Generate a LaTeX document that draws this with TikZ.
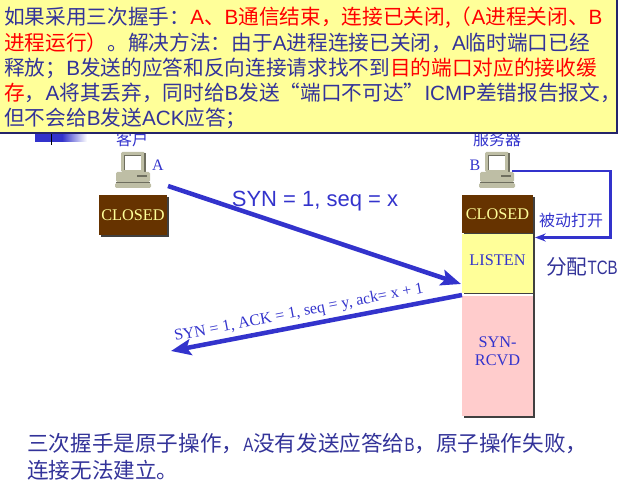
\documentclass[tikz,border=0pt]{standalone}
\usepackage{fontspec}
\setmainfont{Noto Sans CJK SC}
\newfontfamily\arialfont{Liberation Sans}
\newfontfamily\timesfont{Liberation Serif}
\newfontfamily\narrowfont[FakeStretch=0.78]{Liberation Sans}
\usepackage{tikz}
\usetikzlibrary{arrows.meta,positioning}
\usepackage{xcolor}
\definecolor{tcpblue}{RGB}{51,51,204}
\definecolor{notetext}{RGB}{51,51,153}
\definecolor{noteyellow}{RGB}{255,255,153}
\definecolor{closedbrown}{RGB}{102,51,0}
\definecolor{rcvdpink}{RGB}{255,204,204}
\definecolor{pcgray}{RGB}{190,190,165}
\definecolor{pcdark}{RGB}{110,110,95}
\newcommand{\la}[1]{{\arialfont #1}}
\newcommand{\na}[1]{{\narrowfont\fontsize{14.5}{20}\selectfont #1}}
\newcommand{\hot}[1]{\textcolor{red}{#1}}
\tikzstyle{tcparrow} = [line width=3.4pt,-{Stealth[length=15pt,width=12pt,inset=3pt]},color=tcpblue]
\tikzstyle{loopline} = [line width=1.6pt,-{Stealth[length=8pt,width=6pt]},color=tcpblue]
\tikzstyle{statebox} = [inner sep=0pt,font=\timesfont\fontsize{12.2}{13.5}\selectfont,align=center]
\tikzstyle{hostlabel} = [inner sep=0pt,text=tcpblue,font=\fontsize{12}{14}\selectfont]
\tikzset{
  computer/.pic={
    \fill[pcgray,rounded corners=1pt] (-12,-18) rectangle (12,2);
    \fill[white] (-9,-15) rectangle (8,0);
    \draw[pcdark,line width=0.6pt] (-9,0) -- (-9,-15) -- (8,-15);
    \draw[pcdark,line width=0.8pt] (12,-17) -- (12,2);
    \fill[pcgray,rounded corners=1pt] (-17,2) rectangle (17,12);
    \fill[pcdark] (4,5) rectangle (14,7);
    \fill[pcgray,rounded corners=1pt] (-18,13) rectangle (18,18);
    \draw[pcdark,line width=0.6pt] (-17,12.5) -- (17,12.5);
  }
}
\begin{document}
\begin{tikzpicture}[x=0.75pt,y=-0.75pt]
\useasboundingbox (0,0) rectangle (621,484);
% bullet left under the note
\fill[tcpblue] (35,133) rectangle (62,142);
\shade[left color=tcpblue,right color=white,shading angle=90] (62,133) rectangle (87,142);
\draw[black,line width=1pt] (51.5,133) -- (51.5,145);

% Hosts
\node[hostlabel] (clientname) at (132,139) {客户};
\node[hostlabel] (servername) at (497,139) {服务器};
\pic (pca) at (133,170) {computer};
\pic (pcb) at (497,170) {computer};
\node[inner sep=0pt,text=tcpblue,font=\timesfont\fontsize{12}{14}\selectfont] (nameA) at (158,165) {A};
\node[inner sep=0pt,text=tcpblue,font=\timesfont\fontsize{12}{14}\selectfont] (nameB) at (475,165) {B};

% State boxes with their shadows
\fill[black!75] (101,197) rectangle (169,237);
\node[statebox,fill=closedbrown,text=noteyellow,minimum width=51pt,minimum height=30pt] (closedA) at (133,215) {CLOSED};
\fill[black!75] (464,197) rectangle (535,418);
\node[statebox,fill=closedbrown,text=noteyellow,minimum width=53.25pt,minimum height=28.5pt] (closedB) at (497.5,214) {CLOSED};
\node[statebox,fill=noteyellow,text=tcpblue,minimum width=53.25pt,minimum height=44.25pt,below=0pt of closedB,text depth=4pt] (listen) {LISTEN};
\fill[white] (462,294) rectangle (533,296);
\node[statebox,fill=rcvdpink,text=tcpblue,minimum width=53.25pt,minimum height=90pt,text depth=7.5pt] (rcvd) at (497.5,356) {SYN-\\RCVD};

% Segments between the hosts
\coordinate (synstart) at (168,186);
\coordinate (synend) at (461,284);
\coordinate (ackstart) at (462,295);
\coordinate (ackend) at (171,351);
\draw[tcparrow] (synstart) -- (synend);
\draw[tcparrow] (ackstart) -- (ackend);
\node[inner sep=0pt,text=tcpblue,font=\arialfont\fontsize{16.5}{20}\selectfont] (synlabel) at (315,201) {SYN = 1, seq = x};
\node[inner sep=0pt,rotate=11,text=tcpblue,font=\timesfont\fontsize{12}{14}\selectfont] (acklabel) at (299,313) {SYN = 1, ACK = 1, seq = y, ack= x + 1};

% Passive open loop
\coordinate (loopstart) at (512,171);
\coordinate (loopa) at (610.5,171);
\coordinate (loopb) at (610.5,237.5);
\coordinate (loopend) at (535,237.5);
\draw[loopline] (loopstart) -- (loopa) -- (loopb) -- (loopend);
\node[hostlabel] (passive) at (571,220) {被动打开};
\node[inner sep=0pt,text=notetext,font=\fontsize{15.5}{17}\selectfont] (tcb) at (582,267) {分配\na{TCB}};

% Note on top of everything
\node[anchor=north west,draw=notetext!70!black,line width=1.5pt,fill=noteyellow,inner sep=0pt,
  minimum width=463.5pt,minimum height=100.5pt] (notebox) at (-2,-2) {};
\node[anchor=north west,inner sep=0pt,align=left,text=notetext,
  font=\fontsize{15.5}{18.8}\selectfont] (notetxt) at (4,7) {%
如果采用三次握手：\hot{\la{A}、\la{B}通信结束，连接已关闭,（\la{A}进程关闭、\la{B}}\\
\hot{进程运行）}。解决方法：由于\la{A}进程连接已关闭，\la{A}临时端口已经\\
释放；\la{B}发送的应答和反向连接请求找不到\hot{目的端口对应的接收缓}\\
\hot{存}，\la{A}将其丢弃，同时给\la{B}发送“端口不可达”\la{ICMP}差错报告报文，\\
但不会给\la{B}发送\la{ACK}应答；};

% Closing remark
\node[anchor=north west,inner sep=0pt,align=left,text=notetext,
  font=\fontsize{16.2}{20.2}\selectfont] (remark) at (27,433) {%
三次握手是原子操作，\na{A}没有发送应答给\na{B}，原子操作失败，\\
连接无法建立。};
\end{tikzpicture}
\end{document}
